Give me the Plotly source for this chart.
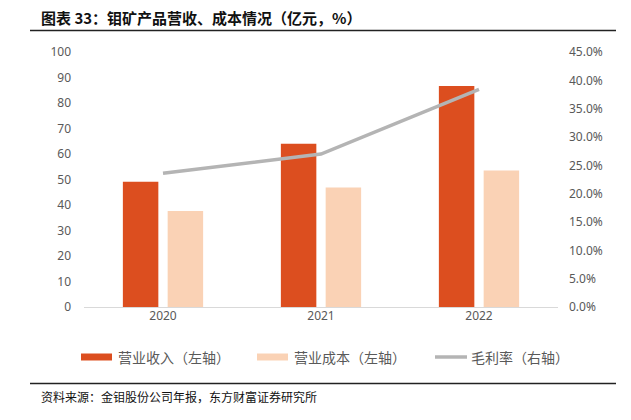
import plotly.graph_objects as go

years = ["2020", "2021", "2022"]
revenue = [49.1, 64.0, 86.7]
cost = [37.6, 46.9, 53.5]
margin = [0.236, 0.270, 0.384]

left_ticks = list(range(0, 101, 10))
right_ticks = [i * 0.05 for i in range(10)]

W, H = 631, 420
L, R, T, B = 84, 73, 52, 113
PW, PH = W - L - R, H - T - B

def px(x):
    return (x - L) / PW

def py(y):
    return (H - B - y) / PH

c_rev = "#DC4E1F"
c_cost = "#FAD2B5"
c_line = "#B4B4B4"
tick_font = dict(family="Noto Sans, Liberation Sans, sans-serif", size=12, color="#595959")
cjk = "Noto Sans CJK SC"

fig = go.Figure()
fig.add_bar(x=years, y=revenue, name="营业收入（左轴）", marker_color=c_rev,
            marker_line_width=0, yaxis="y")
fig.add_bar(x=years, y=cost, name="营业成本（左轴）", marker_color=c_cost,
            marker_line_width=0, yaxis="y")
fig.add_scatter(x=years, y=margin, name="毛利率（右轴）", mode="lines",
                line=dict(color=c_line, width=3.5), yaxis="y2")

shapes = [
    dict(type="line", xref="paper", yref="paper", x0=px(30), x1=px(616),
         y0=py(30.5), y1=py(30.5), line=dict(color="#222222", width=1.5)),
    dict(type="line", xref="paper", yref="paper", x0=px(30), x1=px(616),
         y0=py(383.5), y1=py(383.5), line=dict(color="#222222", width=1.5)),
    # legend swatches
    dict(type="rect", xref="paper", yref="paper", x0=px(81), x1=px(112),
         y0=py(353.5), y1=py(360.5), fillcolor=c_rev, line_width=0),
    dict(type="rect", xref="paper", yref="paper", x0=px(257), x1=px(288),
         y0=py(353.5), y1=py(360.5), fillcolor=c_cost, line_width=0),
    dict(type="line", xref="paper", yref="paper", x0=px(435), x1=px(467),
         y0=py(357), y1=py(357), line=dict(color=c_line, width=3.5)),
]

legend_font = dict(family=cjk, size=14, color="#595959")
annotations = [
    dict(text="<b>图表 33：钼矿产品营收、成本情况（亿元，%）</b>", xref="paper", yref="paper",
         x=px(39), y=py(17), xanchor="left", yanchor="middle", showarrow=False,
         font=dict(family=cjk, size=15, color="#111111")),
    dict(text="资料来源：金钼股份公司年报，东方财富证券研究所", xref="paper", yref="paper",
         x=px(39), y=py(396), xanchor="left", yanchor="middle", showarrow=False,
         font=dict(family=cjk, size=12, color="#111111")),
    dict(text="营业收入（左轴）", xref="paper", yref="paper", x=px(116), y=py(357),
         xanchor="left", yanchor="middle", showarrow=False, font=legend_font),
    dict(text="营业成本（左轴）", xref="paper", yref="paper", x=px(292), y=py(357),
         xanchor="left", yanchor="middle", showarrow=False, font=legend_font),
    dict(text="毛利率（右轴）", xref="paper", yref="paper", x=px(469), y=py(357),
         xanchor="left", yanchor="middle", showarrow=False, font=legend_font),
]

fig.update_layout(
    width=W, height=H,
    margin=dict(l=L, r=R, t=T, b=B, autoexpand=False),
    paper_bgcolor="white", plot_bgcolor="white",
    barmode="group", bargap=0.433, bargroupgap=0.208,
    showlegend=False,
    xaxis=dict(showgrid=False, showline=False, ticks="", tickfont=tick_font,
               zeroline=False),
    yaxis=dict(range=[0, 100], tickvals=left_ticks, showgrid=False, zeroline=True,
               zerolinecolor="#D9D9D9", zerolinewidth=1, showline=False, ticks="",
               tickfont=tick_font, ticklabelstandoff=12, fixedrange=True),
    yaxis2=dict(range=[0, 0.45], tickvals=right_ticks, tickformat=".1%", overlaying="y",
                side="right", showgrid=False, zeroline=False, showline=False, ticks="",
                tickfont=tick_font, ticklabelstandoff=10),
    shapes=shapes, annotations=annotations,
)

fig.write_html("out.html", config={"displayModeBar": False})

# remove the browser's default body margin so the figure sits at the page origin
with open("out.html", encoding="utf-8") as f:
    html = f.read()
html = html.replace("<body>", '<body style="margin:0;padding:0;overflow:hidden">', 1)
with open("out.html", "w", encoding="utf-8") as f:
    f.write(html)
